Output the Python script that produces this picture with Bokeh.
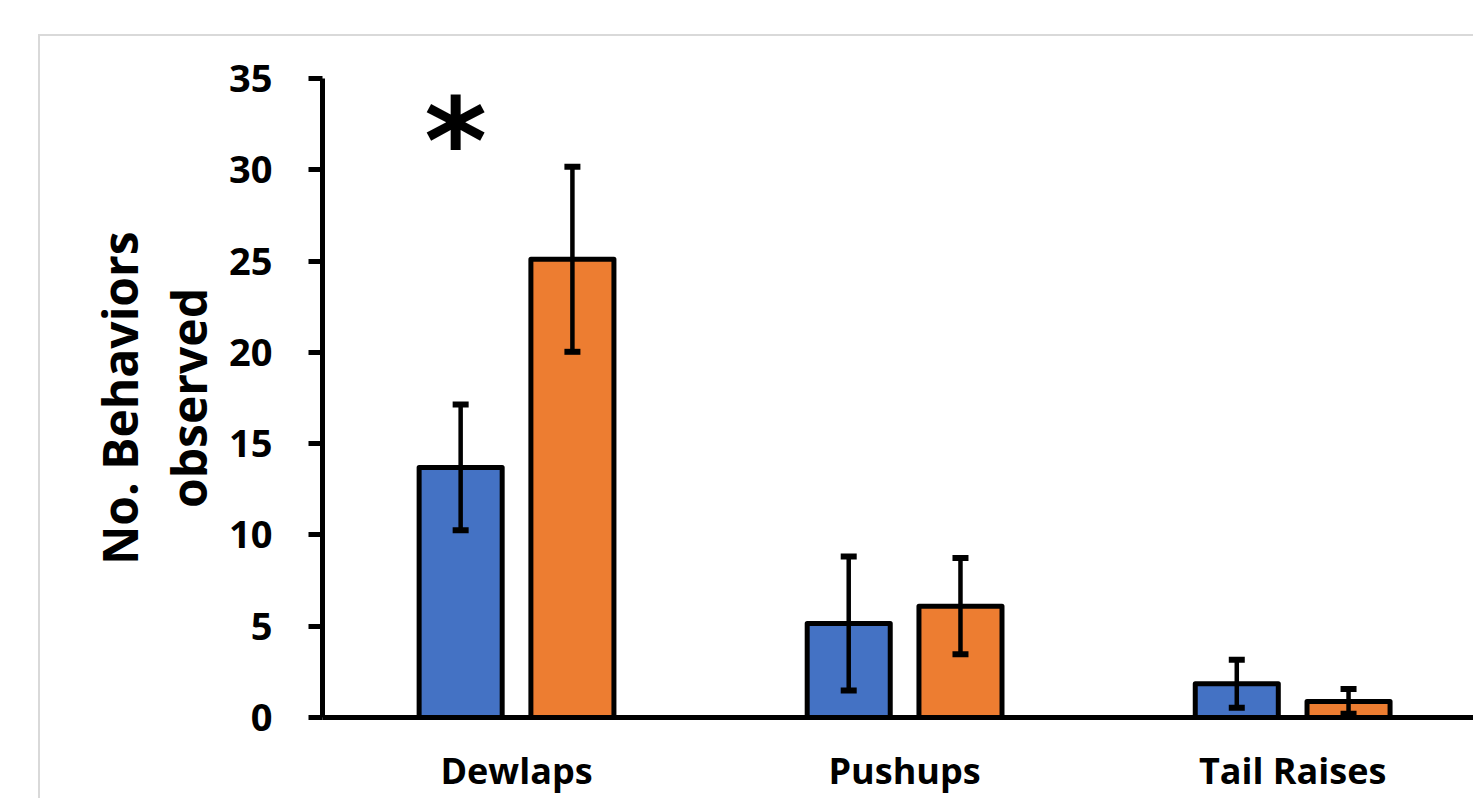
from bokeh.plotting import figure
from bokeh.models import ColumnDataSource, Whisker, TeeHead, FixedTicker, Range1d, InlineStyleSheet
from bokeh.embed import file_html
from bokeh.resources import INLINE
from bokeh.core.properties import value

categories = ["Dewlaps", "Pushups", "Tail Raises"]
group_a = [13.7, 5.15, 1.85]
group_a_err = [3.45, 3.67, 1.31]
group_b = [25.1, 6.1, 0.88]
group_b_err = [5.07, 2.63, 0.68]
significance = ["*", "", ""]
y_ticks = [0, 5, 10, 15, 20, 25, 30, 35]

BLUE = "#4472C4"
ORANGE = "#ED7D31"
FONT = "Open Sans"
OFFSET = 0.144
BAR_W = 0.214

centers = [i + 0.5 for i in range(len(categories))]
xa = [c - OFFSET for c in centers]
xb = [c + OFFSET for c in centers]

src_a = ColumnDataSource(dict(x=xa, top=group_a,
                              upper=[v + e for v, e in zip(group_a, group_a_err)],
                              lower=[v - e for v, e in zip(group_a, group_a_err)]))
src_b = ColumnDataSource(dict(x=xb, top=group_b,
                              upper=[v + e for v, e in zip(group_b, group_b_err)],
                              lower=[v - e for v, e in zip(group_b, group_b_err)]))

p = figure(width=1473, height=798, output_backend="svg", toolbar_location=None,
           x_range=Range1d(0, 2.966), y_range=Range1d(0, 35),
           min_border_left=322, min_border_top=78, min_border_right=0, min_border_bottom=81)
p.outline_line_color = None
p.xgrid.visible = False
p.ygrid.visible = False
p.background_fill_color = "white"
p.border_fill_color = "white"

# light grey chart-area border (top and left edges visible, rest cropped)
p.stylesheets = [InlineStyleSheet(css="""
:host { position: relative; }
:host::after {
  content: "";
  position: absolute;
  left: 38px; top: 34px; right: 0px; bottom: 0px;
  border-top: 2px solid #d9d9d9;
  border-left: 2px solid #d9d9d9;
  pointer-events: none;
}
""")]

for src, col in ((src_a, BLUE), (src_b, ORANGE)):
    p.vbar(x="x", top="top", bottom=0, width=BAR_W, source=src, fill_color=col,
           line_color="black", line_width=5, line_join="round")
    w = Whisker(base="x", upper="upper", lower="lower", source=src, level="overlay",
                line_color="black", line_width=4.5,
                upper_head=TeeHead(size=16, line_width=6, line_color="black"),
                lower_head=TeeHead(size=16, line_width=6, line_color="black"))
    p.add_layout(w)

sig_x = [c - 0.157 for c, s in zip(centers, significance) if s]
sig_y = [31.55 for s in significance if s]
sig_t = [s for s in significance if s]
p.text(x=sig_x, y=sig_y, text=sig_t,
       text_font=value("DejaVu Sans"), text_font_style="bold", text_font_size="120px",
       text_align="center", text_baseline="middle", text_color="black")

# y axis
ya = p.yaxis[0]
ya.ticker = FixedTicker(ticks=y_ticks)
ya.axis_line_width = 5
ya.axis_line_color = "black"
ya.major_tick_line_width = 5
ya.major_tick_line_color = "black"
ya.major_tick_out = 14
ya.major_tick_in = 0
ya.minor_tick_line_color = None
ya.major_label_standoff = 36
ya.major_label_text_font = FONT
ya.major_label_text_font_style = "bold"
ya.major_label_text_font_size = "38px"
ya.major_label_text_color = "black"
ya.axis_label = "No. Behaviors\nobserved"
ya.axis_label_text_font = FONT
ya.axis_label_text_font_style = "bold"
ya.axis_label_text_font_size = "48px"
ya.axis_label_text_color = "black"
ya.axis_label_text_line_height = 1.06
ya.axis_label_standoff = 5

# x axis
xa_ax = p.xaxis[0]
xa_ax.ticker = FixedTicker(ticks=centers)
xa_ax.major_label_overrides = {c: name for c, name in zip(centers, categories)}
xa_ax.axis_line_width = 5
xa_ax.axis_line_color = "black"
xa_ax.major_tick_line_color = None
xa_ax.major_tick_out = 0
xa_ax.major_tick_in = 0
xa_ax.minor_tick_line_color = None
xa_ax.major_label_standoff = 28
xa_ax.major_label_text_font = FONT
xa_ax.major_label_text_font_style = "bold"
xa_ax.major_label_text_font_size = "36px"
xa_ax.major_label_text_color = "black"

open("out.html", "w").write(file_html(p, INLINE))
